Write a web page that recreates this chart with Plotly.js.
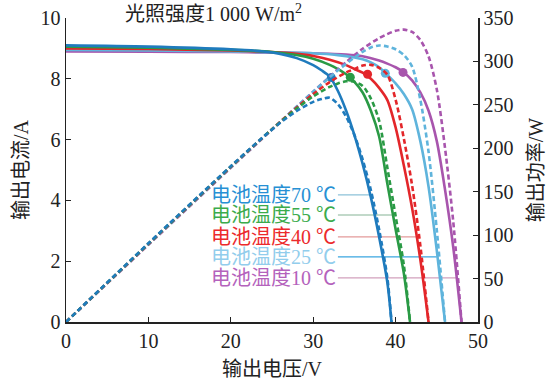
<!DOCTYPE html>
<html>
<head>
<meta charset="utf-8">
<script src="https://cdn.plot.ly/plotly-3.0.1.min.js"></script>
<style>html,body{margin:0;padding:0;background:#fff;}#chart{width:547px;height:381px;}</style>
</head>
<body>
<div id="chart"></div>
<script>
// ---- data ----
const temps = ['10', '25', '40', '55', '70'];
const labels = ['电池温度10 ℃', '电池温度25 ℃', '电池温度40 ℃', '电池温度55 ℃', '电池温度70 ℃'];

// I-V curves (voltage V, current A)
const v10 = [0, 10, 20, 25, 30, 34, 36, 38, 39, 40, 41, 42, 43, 44, 45, 46, 47, 48];
const i10 = [8.90, 8.89, 8.88, 8.86, 8.84, 8.80, 8.74, 8.60, 8.50, 8.38, 8.21, 7.95, 7.55, 6.95, 5.95, 4.35, 2.45, 0];
const p10 = [0, 88.9, 177.6, 221.5, 265.2, 299.2, 314.6, 326.8, 331.5, 335.2, 336.6, 333.9, 324.7, 305.8, 267.8, 200.1, 115.2, 0];

const v25 = [0, 10, 20, 25, 30, 33, 35, 36, 37, 38, 39, 40, 41, 42, 43, 44, 45, 46];
const i25 = [8.95, 8.93, 8.90, 8.87, 8.84, 8.78, 8.70, 8.64, 8.54, 8.38, 8.13, 7.85, 7.50, 7.00, 5.95, 4.45, 2.35, 0];
const p25 = [0, 89.3, 178.0, 221.8, 265.2, 289.7, 304.5, 311.0, 316.0, 318.4, 317.1, 314.0, 307.5, 294.0, 255.9, 195.8, 105.8, 0];

const v40 = [0, 10, 20, 25, 28, 30, 32, 34, 35, 36, 37, 38, 39, 40, 41, 42, 43, 44];
const i40 = [9.00, 8.98, 8.93, 8.88, 8.82, 8.75, 8.63, 8.45, 8.32, 8.20, 8.00, 7.70, 7.30, 6.40, 5.15, 3.75, 2.05, 0];
const p40 = [0, 89.8, 178.6, 222.0, 247.0, 262.5, 276.2, 287.3, 291.2, 295.2, 296.0, 292.6, 284.7, 256.0, 211.2, 157.5, 88.2, 0];

const v55 = [0, 10, 20, 25, 28, 30, 32, 33, 34, 35, 36, 37, 38, 39, 40, 41, 41.75];
const i55 = [9.06, 9.02, 8.95, 8.88, 8.78, 8.66, 8.46, 8.32, 8.15, 7.90, 7.55, 6.95, 6.10, 4.55, 3.05, 1.60, 0];
const p55 = [0, 90.2, 179.0, 222.0, 245.8, 259.8, 270.7, 274.6, 277.1, 276.5, 271.8, 257.2, 231.8, 177.5, 122.0, 65.6, 0];

const v70 = [0, 10, 20, 24, 26, 28, 30, 31, 32, 33, 34, 35, 36, 37, 38, 39, 39.5];
const i70 = [9.10, 9.06, 8.97, 8.90, 8.82, 8.68, 8.45, 8.28, 8.07, 7.60, 6.95, 6.15, 5.20, 4.10, 2.80, 1.30, 0];
const p70 = [0, 90.6, 179.4, 213.6, 229.3, 243.0, 253.5, 256.7, 258.2, 250.8, 236.3, 215.3, 187.2, 151.7, 106.4, 50.7, 0];

// maximum power points (V, A)
const mppV = [40.9, 38.75, 36.6, 34.5, 32.2];
const mppI = [8.21, 8.18, 8.15, 8.05, 8.04];

// label leader lines: label level (A) and curve end voltage (V)
const labelI = [1.45, 2.14, 2.80, 3.52, 4.18];
const leaderEndV = [47.5, 45.0, 42.6, 39.9, 36.9];

// ---- styles ----
const lineColors = ['#a855ad', '#5fb4dc', '#e3262a', '#2a9a45', '#1f7bbd'];
const textColors = ['#b462bc', '#92cdec', '#ec2a2c', '#3bab4c', '#2790d4'];
const leaderColors = ['#d2a0bc', '#3aa6e0', '#e39a9a', '#86b395', '#8cc2d8'];

const V = [v10, v25, v40, v55, v70];
const I = [i10, i25, i40, i55, i70];
const P = [p10, p25, p40, p55, p70];

const FONT = '"Liberation Serif", "Times New Roman", "Noto Sans CJK SC", serif';

const traces = [];
for (let k = 0; k < 5; k++) {
  traces.push({
    x: V[k], y: I[k], type: 'scatter', mode: 'lines', yaxis: 'y',
    line: {color: lineColors[k], width: 2.6, shape: 'spline', smoothing: 0.8},
    hoverinfo: 'skip', showlegend: false
  });
}
for (let k = 0; k < 5; k++) {
  traces.push({
    x: V[k], y: P[k], type: 'scatter', mode: 'lines', yaxis: 'y2',
    line: {color: lineColors[k], width: 2.6, dash: '5px,3px', shape: 'spline', smoothing: 0.8},
    hoverinfo: 'skip', showlegend: false
  });
}
traces.push({
  x: mppV, y: mppI, type: 'scatter', mode: 'markers', yaxis: 'y',
  marker: {color: lineColors, size: 9},
  hoverinfo: 'skip', showlegend: false
});

const annotations = [];
const shapes = [];
for (let k = 0; k < 5; k++) {
  annotations.push({
    x: 33.0, y: labelI[k], xref: 'x', yref: 'y', xanchor: 'right', yanchor: 'middle',
    text: labels[k], showarrow: false,
    font: {family: FONT, size: 20, color: textColors[k]}
  });
  shapes.push({
    type: 'line', xref: 'x', yref: 'y', x0: 33.0, x1: leaderEndV[k], y0: labelI[k], y1: labelI[k],
    line: {color: leaderColors[k], width: 1.2}, layer: 'below'
  });
}

const layout = {
  width: 547, height: 381,
  margin: {l: 66, r: 69, t: 18, b: 59, pad: 0},
  paper_bgcolor: '#fff', plot_bgcolor: '#fff',
  font: {family: FONT, size: 20, color: '#222'},
  title: {text: '光照强度1 000 W/m<sup>2</sup>', x: (125 - 66) / 412, xanchor: 'left', xref: 'paper',
          y: 1 - 14 / 381, yanchor: 'middle', font: {family: FONT, size: 20, color: '#222'}},
  xaxis: {
    range: [0, 50], dtick: 10, tick0: 0, ticks: 'inside', ticklen: 5, tickwidth: 1.2, tickcolor: '#222',
    showline: true, linecolor: '#222', linewidth: 1.5, showgrid: false, zeroline: false,
    tickfont: {family: FONT, size: 20, color: '#222'},
    title: {text: '输出电压/V', font: {family: FONT, size: 20, color: '#222'}, standoff: 11}
  },
  yaxis: {
    range: [0, 10], dtick: 2, tick0: 0, ticks: 'inside', ticklen: 5, tickwidth: 1.2, tickcolor: '#222',
    showline: true, linecolor: '#222', linewidth: 1.5, showgrid: false, zeroline: false,
    tickfont: {family: FONT, size: 20, color: '#222'},
    title: {text: '输出电流/A', font: {family: FONT, size: 20, color: '#222'}, standoff: 6}
  },
  yaxis2: {
    range: [0, 350], dtick: 50, tick0: 0, overlaying: 'y', side: 'right',
    ticks: 'inside', ticklen: 5, tickwidth: 1.2, tickcolor: '#222',
    showline: true, linecolor: '#222', linewidth: 1.5, showgrid: false, zeroline: false,
    tickfont: {family: FONT, size: 20, color: '#222'},
    title: {text: '输出功率/W', font: {family: FONT, size: 20, color: '#222'}, standoff: 20}
  },
  annotations: annotations,
  shapes: shapes,
  showlegend: false
};

Plotly.newPlot('chart', traces, layout, {displayModeBar: false, staticPlot: true});
</script>
</body>
</html>
